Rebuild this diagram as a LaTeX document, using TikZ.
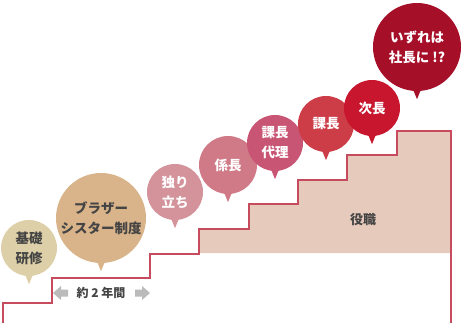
\documentclass[tikz,border=0pt]{standalone}
\usepackage{fontspec}
\setmainfont{Noto Sans CJK JP}
\newfontfamily\jp{Noto Sans CJK JP}
\definecolor{cKiso}{HTML}{DDD0A8}
\definecolor{cBro}{HTML}{D9B48A}
\definecolor{cHitori}{HTML}{D4929A}
\definecolor{cKakari}{HTML}{CF7A86}
\definecolor{cDairi}{HTML}{C95574}
\definecolor{cKacho}{HTML}{CC3D48}
\definecolor{cJicho}{HTML}{C8162E}
\definecolor{cShacho}{HTML}{A50F28}
\definecolor{cFill}{HTML}{E6CABB}
\definecolor{cLine}{HTML}{C64B5E}
\definecolor{cTxt}{HTML}{444444}
\definecolor{cArrow}{HTML}{BBBBBB}
\tikzset{
  bubble/.style={circle, inner sep=0pt, minimum size=#1, align=center,
    font=\jp\bfseries\fontsize{13.5}{20}\selectfont},
  dark/.style={text=cTxt},
  light/.style={text=white},
  stairline/.style={draw=cLine, line width=1.3pt, line join=miter},
  lbl/.style={font=\jp\bfseries\fontsize{13}{16}\selectfont, text=cTxt, inner sep=0pt},
}
\newcommand{\bubblePointer}[2]{%
  \fill[#2] ([xshift=-4.5pt,yshift=3pt]#1.south) -- ([xshift=4.5pt,yshift=3pt]#1.south) -- ([yshift=-8pt]#1.south) -- cycle;}
\begin{document}
\begin{tikzpicture}[x=1pt,y=-1pt]
\useasboundingbox (0,0) rectangle (470,323);
% stair fill
\fill[cFill] (199,253) -- (199,229) -- (249,229) -- (249,204) -- (298,204) -- (298,180)
  -- (347,180) -- (347,155) -- (397,155) -- (397,131) -- (451,131) -- (451,253) -- cycle;
% stair line
\draw[stairline] (3,323) -- (3,303) -- (52,303) -- (52,278) -- (150,278) -- (150,254)
  -- (199,254) -- (199,229) -- (249,229) -- (249,204) -- (298,204) -- (298,180)
  -- (347,180) -- (347,155) -- (397,155) -- (397,131) -- (451,131) -- (451,323);
\node[lbl] (yaku) at (363,220) {役職};
% period arrow
\node[lbl, font=\jp\bfseries\fontsize{12}{14}\selectfont] (period) at (101,293) {約 2 年間};
\coordinate (la) at (53,293);
\coordinate (ra) at (150,293);
\fill[cArrow] (la) -- ++(8,-7) -- ++(0,3.5) -- ++(7,0) -- ++(0,7) -- ++(-7,0) -- ++(0,3.5) -- cycle;
\fill[cArrow] (ra) -- ++(-8,-7) -- ++(0,3.5) -- ++(-7,0) -- ++(0,7) -- ++(7,0) -- ++(0,3.5) -- cycle;
% bubbles
\node[bubble=56pt, fill=cKiso, dark] (kiso) at (29,248) {基礎\\研修};
\bubblePointer{kiso}{cKiso}
\node[bubble=90pt, fill=cBro, dark] (bro) at (101,218) {ブラザー\\シスター制度};
\bubblePointer{bro}{cBro}
\node[bubble=56pt, fill=cHitori, light] (hitori) at (175,192) {独り\\立ち};
\bubblePointer{hitori}{cHitori}
\node[bubble=58pt, fill=cKakari, light] (kakari) at (228,165) {係長};
\bubblePointer{kakari}{cKakari}
\node[bubble=56pt, fill=cDairi, light] (dairi) at (275,143) {課長\\代理};
\bubblePointer{dairi}{cDairi}
\node[bubble=88pt, fill=cShacho, light] (shacho) at (417,47) {いずれは\\社長に !?};
\bubblePointer{shacho}{cShacho}
\node[bubble=56pt, fill=cKacho, light] (kacho) at (326,124) {課長};
\bubblePointer{kacho}{cKacho}
\node[bubble=56pt, fill=cJicho, light] (jicho) at (372,108) {次長};
\bubblePointer{jicho}{cJicho}
\end{tikzpicture}
\end{document}
